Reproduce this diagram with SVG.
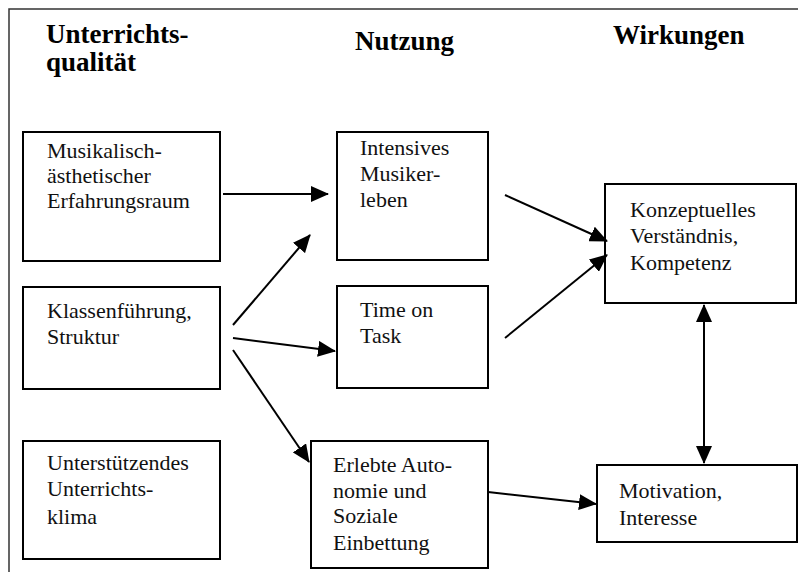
<svg xmlns="http://www.w3.org/2000/svg" width="798" height="572" viewBox="0 0 798 572">
  <style>
    .box { fill: #fff; stroke: #000; stroke-width: 2; }
    .head { font-weight: bold; font-size: 27px; fill: #000; }
    .lbl { font-size: 22px; fill: #111; }
    .edge { stroke: #000; stroke-width: 2; fill: none; marker-end: url(#arrow); }
  </style>
  <defs>
    <marker id="arrow" markerUnits="userSpaceOnUse" markerWidth="18" markerHeight="16" viewBox="0 0 18 16" refX="17" refY="8" orient="auto-start-reverse">
      <path d="M0,0 L18,8 L0,16 Z" fill="#000"/>
    </marker>
  </defs>

  <rect width="798" height="572" fill="#fff"/>

  <!-- frame -->
  <path d="M9,572 V9 H798" fill="none" stroke="#333" stroke-width="1.5"/>

  <g font-family="Liberation Serif, DejaVu Serif, serif">
  <!-- column headings -->
  <g id="headings">
    <text class="head" x="46" y="43">Unterrichts-</text>
    <text class="head" x="46" y="71">qualität</text>
    <text class="head" x="355" y="50">Nutzung</text>
    <text class="head" x="613" y="44">Wirkungen</text>
  </g>

  <!-- Unterrichtsqualität -->
  <g id="n-musik">
    <rect class="box" x="23" y="132" width="197" height="129"/>
    <text class="lbl" x="47" y="158">Musikalisch-</text>
    <text class="lbl" x="47" y="183">ästhetischer</text>
    <text class="lbl" x="47" y="208">Erfahrungsraum</text>
  </g>
  <g id="n-klassen">
    <rect class="box" x="23" y="287" width="197" height="102"/>
    <text class="lbl" x="47" y="318">Klassenführung,</text>
    <text class="lbl" x="47" y="344">Struktur</text>
  </g>
  <g id="n-klima">
    <rect class="box" x="23" y="441" width="197" height="118"/>
    <text class="lbl" x="47" y="470">Unterstützendes</text>
    <text class="lbl" x="47" y="496">Unterrichts-</text>
    <text class="lbl" x="47" y="524">klima</text>
  </g>

  <!-- Nutzung -->
  <g id="n-musikerleben">
    <rect class="box" x="337" y="132" width="151" height="128"/>
    <text class="lbl" x="360" y="155">Intensives</text>
    <text class="lbl" x="360" y="181">Musiker-</text>
    <text class="lbl" x="360" y="207">leben</text>
  </g>
  <g id="n-timeontask">
    <rect class="box" x="337" y="286" width="151" height="102"/>
    <text class="lbl" x="360" y="317">Time on</text>
    <text class="lbl" x="360" y="343">Task</text>
  </g>
  <g id="n-autonomie">
    <rect class="box" x="311" y="441" width="177" height="127"/>
    <text class="lbl" x="333" y="472">Erlebte Auto-</text>
    <text class="lbl" x="333" y="498">nomie und</text>
    <text class="lbl" x="333" y="523">Soziale</text>
    <text class="lbl" x="333" y="550">Einbettung</text>
  </g>

  <!-- Wirkungen -->
  <g id="n-verstaendnis">
    <rect class="box" x="605" y="184" width="191" height="119"/>
    <text class="lbl" x="630" y="217">Konzeptuelles</text>
    <text class="lbl" x="630" y="243">Verständnis,</text>
    <text class="lbl" x="630" y="270">Kompetenz</text>
  </g>
  <g id="n-motivation">
    <rect class="box" x="597" y="465" width="200" height="77"/>
    <text class="lbl" x="619" y="498">Motivation,</text>
    <text class="lbl" x="619" y="525">Interesse</text>
  </g>
  </g>

  <!-- connectors -->
  <g id="edges">
    <line class="edge" x1="223" y1="194" x2="328" y2="194"/>
    <line class="edge" x1="233" y1="325" x2="310" y2="235"/>
    <line class="edge" x1="233" y1="338" x2="335" y2="351"/>
    <line class="edge" x1="233" y1="350" x2="309" y2="462"/>
    <line class="edge" x1="505" y1="195" x2="607" y2="241"/>
    <line class="edge" x1="505" y1="338" x2="607" y2="255"/>
    <line class="edge" x1="488" y1="492" x2="596" y2="504"/>
    <line class="edge" x1="704" y1="305" x2="704" y2="463" marker-start="url(#arrow)"/>
  </g>
</svg>
